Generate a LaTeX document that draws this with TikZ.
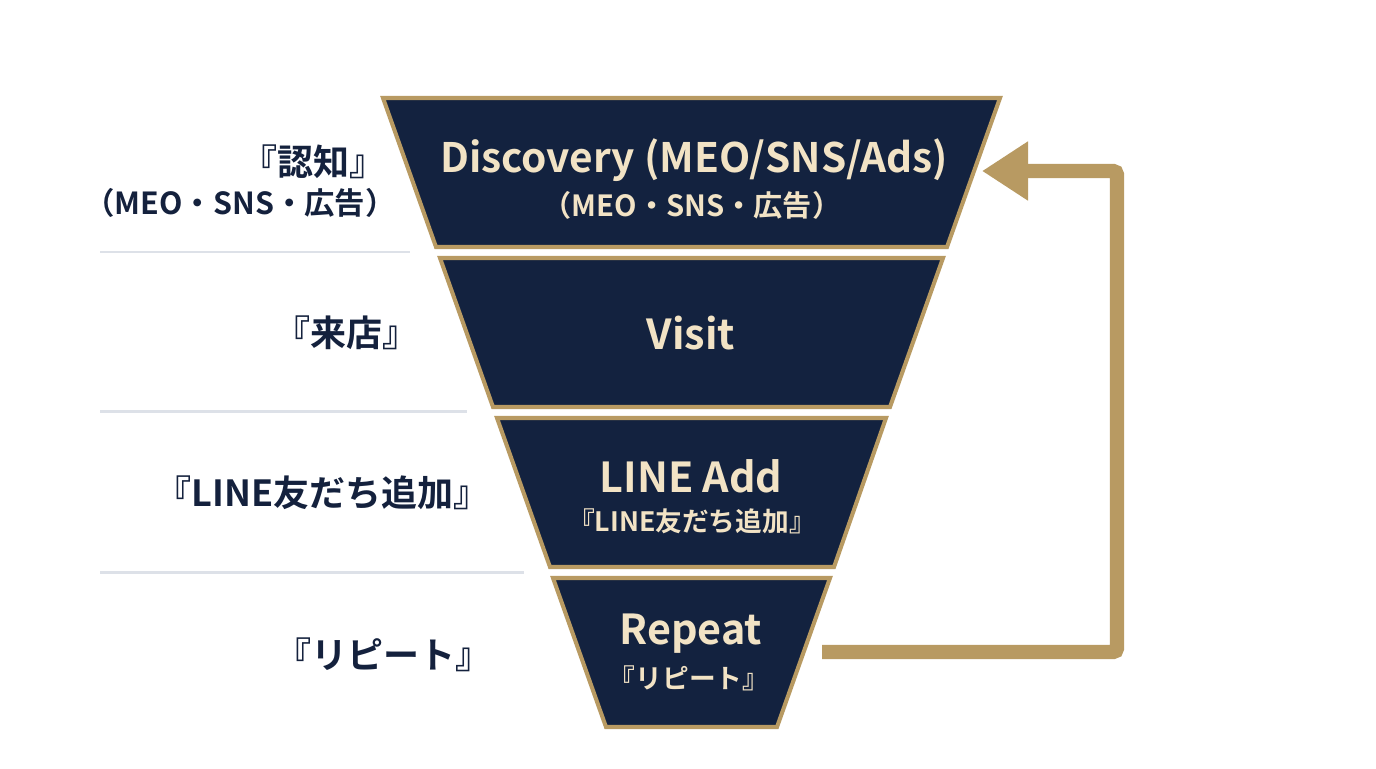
\documentclass[tikz,border=0pt]{standalone}
\usepackage{fontspec}
\usepackage{tikz}
\usetikzlibrary{arrows.meta,positioning}
\newfontfamily\jpfont{Noto Sans CJK JP}[BoldFont={* Bold}]
\definecolor{navy}{HTML}{13223F}
\definecolor{gold}{HTML}{B89A62}
\definecolor{cream}{HTML}{F2E3C5}
\definecolor{inkblue}{HTML}{14213D}
\definecolor{rule}{HTML}{DDE1E8}
\tikzset{
  stage/.style={
    draw=gold, fill=navy, line width=2.3pt, line join=miter
  },
  stagetitle/.style={
    text=cream, inner sep=0pt,
    font=\jpfont\bfseries\fontsize{23.5}{28}\selectfont
  },
  stagesub/.style={
    text=cream, inner sep=0pt,
    font=\jpfont\bfseries\fontsize{15.2}{20}\selectfont
  },
  sidelabel/.style={
    text=inkblue, inner sep=0pt, anchor=east,
    font=\jpfont\bfseries\fontsize{20.5}{24}\selectfont
  },
  divider/.style={
    draw=rule, line width=1.7pt
  },
  loopback/.style={
    draw=gold, line width=8pt, rounded corners=2pt,
    -{Triangle[length=0.92cm, width=1.12cm]}
  },
}

\begin{document}
\begin{tikzpicture}[x=0.02cm, y=-0.02cm]

  \useasboundingbox[fill=white] (0,0) rectangle (1376,768);

  % Funnel stages, widest on top
  \draw[stage] (383,98) -- (1000,98) -- (947,247) -- (436,247) -- cycle;
  \draw[stage] (440,258) -- (943,258) -- (890,407) -- (493,407) -- cycle;
  \draw[stage] (497,418) -- (886,418) -- (834,567) -- (550,567) -- cycle;
  \draw[stage] (553,578) -- (830,578) -- (777,727) -- (606,727) -- cycle;

  % Stage texts
  \node[stagetitle, font=\jpfont\bfseries\fontsize{23.1}{28}\selectfont]
    (disc) at (694,160) {Discovery (MEO/SNS/Ads)};
  \node[stagesub, font=\jpfont\bfseries\fontsize{16.6}{20}\selectfont]
    (disc-sub) at (692,205) {（MEO・SNS・広告）};
  \node[stagetitle] (visit) at (691,333) {Visit};
  \node[stagetitle] (line) at (691,476) {LINE Add};
  \node[stagesub] (line-sub) at (692,521) {『LINE友だち追加』};
  \node[stagetitle] (rep) at (691,634) {Repeat};
  \node[stagesub] (rep-sub) at (689,678) {『リピート』};

  % Side labels and dividers
  \node[sidelabel] (l-disc) at (386,162) {『認知』};
  \node[sidelabel, font=\jpfont\bfseries\fontsize{17.3}{24}\selectfont]
    (l-disc-sub) at (396,203) {（MEO・SNS・広告）};
  \node[sidelabel] (l-visit) at (419,333) {『来店』};
  \node[sidelabel] (l-line) at (490,493) {『LINE友だち追加』};
  \node[sidelabel] (l-rep) at (492,655) {『リピート』};

  \draw[divider] (100,252) -- (410,252);
  \draw[divider] (100,411) -- (467,411);
  \draw[divider] (100,572) -- (524,572);

  % Loop back from Repeat to Discovery
  \coordinate (rep-e) at (822,652);
  \coordinate (disc-e) at (982,171);
  \draw[loopback] (rep-e) -- (1117,652) -- (1117,171) -- (disc-e);

\end{tikzpicture}
\end{document}
